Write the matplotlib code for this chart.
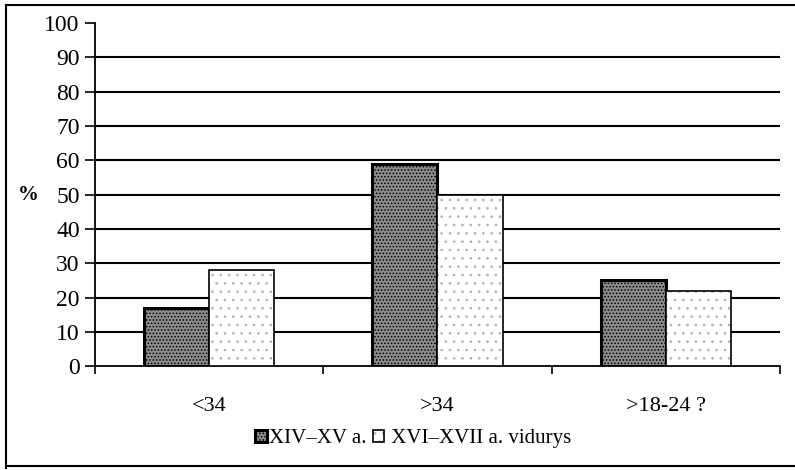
import numpy as np
import matplotlib.pyplot as plt

# dados
categorias = ['<34', '>34', '>18-24 ?']
serie_xiv_xv = [17, 59, 25]
serie_xvi_xvii = [28, 50, 22]
rotulos = ['XIV\u2013XV a.', ' XVI\u2013XVII a. vidurys']

plt.rcParams['font.family'] = ['Liberation Serif', 'DejaVu Serif']
plt.rcParams['hatch.linewidth'] = 0.7

fig = plt.figure(figsize=(7.95, 4.70), dpi=100)
ax = fig.add_axes([0.1195, 0.221, 0.8615, 0.730])

x = np.arange(len(categorias))
largura = 0.285

plt.rcParams['hatch.color'] = '#555555'
b1 = ax.bar(x - largura / 2, serie_xiv_xv, largura, color='#8c8c8c',
            edgecolor='black', linewidth=2.2, hatch='.....', zorder=3,
            label=rotulos[0])
b2 = ax.bar(x + largura / 2, serie_xvi_xvii, largura, color='white',
            edgecolor='black', linewidth=1.2, zorder=3, label=rotulos[1])
for barra in b2:
    barra.set_hatch('..')
    barra._hatch_color = (0.7, 0.7, 0.7, 1.0)

ax.set_xlim(-0.5, len(categorias) - 0.5)
ax.set_ylim(0, 100)
ax.set_yticks(np.arange(0, 101, 10))
ax.set_xticks(np.arange(-0.5, len(categorias), 1.0), minor=False)
ax.set_xticklabels([])
ax.set_xticks(x, minor=True)
ax.set_xticklabels(categorias, minor=True, fontsize=16)
ax.tick_params(axis='x', which='minor', length=0, pad=22)
ax.tick_params(axis='x', which='major', direction='out', length=6, width=1.2)
ax.tick_params(axis='y', direction='out', length=7, width=1.2, labelsize=17, pad=4)

for v in range(10, 100, 10):
    ax.axhline(v, color='black', linewidth=1.5, zorder=1)

for lado in ['top', 'right']:
    ax.spines[lado].set_visible(False)
ax.spines['left'].set_linewidth(1.3)
ax.spines['bottom'].set_linewidth(1.3)

fig.text(0.035, 0.585, '%', fontsize=15, fontweight='bold', ha='center', va='center')

leg = ax.legend(loc='upper center', bbox_to_anchor=(0.465, -0.13), ncol=2,
                frameon=False, fontsize=15, handlelength=0.55, handleheight=0.55,
                handletextpad=0.1, columnspacing=0.3)

# moldura da figura
fig.add_artist(plt.Line2D([0.008, 0.008], [0.005, 0.99], color='black', linewidth=1.5))
fig.add_artist(plt.Line2D([0.008, 1.0], [0.99, 0.99], color='black', linewidth=1.5))
fig.add_artist(plt.Line2D([0.008, 1.0], [0.008, 0.008], color='black', linewidth=1.5))

fig.savefig('out.png', dpi=100)
